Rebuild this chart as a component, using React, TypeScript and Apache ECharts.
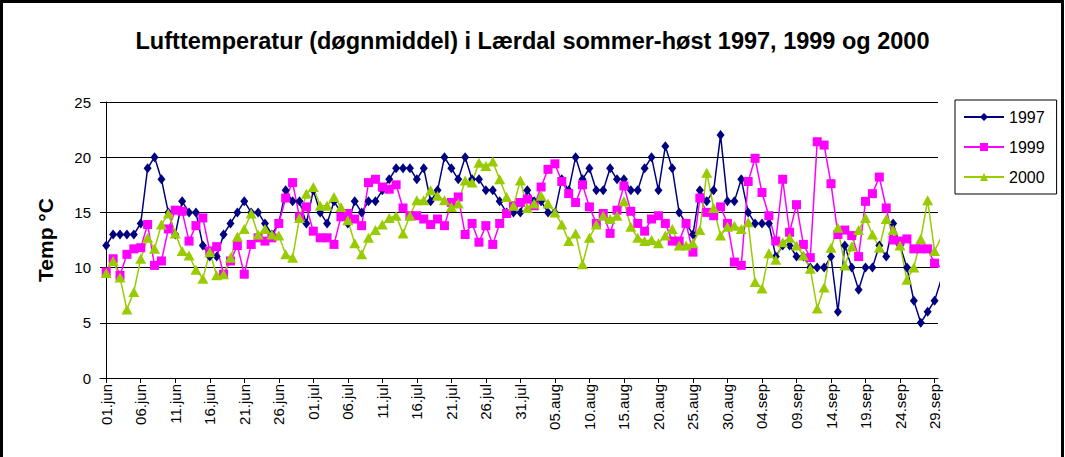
import React, { useEffect, useRef } from 'react';
import * as echarts from 'echarts';

const months: [string, number][] = [['jun', 30], ['jul', 31], ['aug', 31], ['sep', 30]];
const days: string[] = [];
months.forEach(([m, n]) => {
  for (let d = 1; d <= n; d++) days.push(String(d).padStart(2, '0') + '.' + m);
});

const tickIdx = [0, 5, 10, 15, 20, 25, 30, 35, 40, 45, 50, 55, 60, 65, 70, 75, 80, 85, 90, 95, 100, 105, 110, 115, 120];

const seriesNames = ['1997', '1999', '2000'];

const t1997 = [
  12, 13, 13, 13, 13, 14, 19, 20, 18, 15, 13, 16, 15, 15, 12, 11, 11, 13, 14, 15,
  16, 15, 15, 14, 13, 14, 17, 16, 16, 14, 17, 15, 14, 16, 15, 14, 16, 15, 16, 16,
  17, 18, 19, 19, 19, 18, 19, 16, 17, 20, 19, 18, 20, 18, 18, 17, 17, 16, 15, 15,
  15, 17, 16, 16, 15, 15, 18, 17, 20, 18, 19, 17, 17, 19, 18, 18, 17, 17, 19, 20,
  17, 21, 19, 15, 14, 13, 17, 16, 17, 22, 16, 16, 18, 15, 14, 14, 14, 11, 12, 12,
  11, 11, 10, 10, 10, 11, 6, 12, 10, 8, 10, 10, 12, 11, 14, 12, 10, 7, 5, 6,
  7, 9,
];

const t1999 = [
  9.6, 10.8, 9.3, 11.2, 11.7, 11.8, 13.9, 10.2, 10.6, 13.5, 15.2, 15.1, 12.4, 13.8, 14.5, 11.5, 11.9, 9.4, 10.6, 12,
  9.4, 12.1, 12.7, 12.4, 12.7, 14, 16.3, 17.7, 14.6, 15.5, 13.3, 12.7, 12.7, 12.1, 14.6, 14.9, 14.4, 13.8, 17.7, 18,
  17.3, 17.1, 17.5, 15.4, 14.7, 14.7, 14.4, 13.9, 14.4, 13.8, 15.9, 16.4, 13, 14, 12.3, 13.8, 12.1, 14, 14.9, 15.6,
  15.9, 16.2, 15.6, 17.3, 18.9, 19.4, 17.8, 16.7, 15.9, 17.5, 15.5, 14, 14.9, 13.1, 15.2, 17.4, 15.1, 14, 13.3, 14.4,
  14.7, 14, 12.4, 12.4, 14, 11.4, 16.3, 15, 14.7, 15.5, 14, 10.5, 10.2, 17.8, 19.9, 16.8, 14.7, 12.4, 18, 13.2,
  15.7, 12.1, 10.9, 21.4, 21.1, 17.6, 13, 13.4, 12.9, 11, 16, 16.7, 18.2, 15.4, 12.5, 12.4, 12.6, 11.7, 11.7, 11.7,
  10.4, 10,
];

const t2000 = [
  9.5, 10.6, 9.1, 6.2, 7.8, 10.8, 12.7, 11.7, 13.9, 14.9, 13.1, 11.5, 11.1, 9.8, 9, 11.4, 9.3, 9.4, 10.9, 12.8,
  13.5, 14.9, 13, 13.5, 13, 12.9, 11.2, 10.9, 14.5, 16.7, 17.3, 15.6, 15.6, 16.4, 15.5, 14.3, 12.2, 11.2, 12.7, 13.4,
  13.9, 14.5, 14.7, 13.1, 14.7, 16.1, 16.1, 17, 16.5, 16.1, 15.5, 15.8, 17.9, 17.7, 19.5, 19.2, 19.6, 18, 16.4, 15.6,
  17.9, 15.4, 15.8, 16.5, 15.8, 15, 13.9, 12.4, 13.1, 10.3, 12.7, 13.9, 14.7, 14.4, 14.7, 16, 13.7, 12.7, 12.4, 12.5,
  12.2, 12.9, 13.5, 12, 12, 12.2, 13.4, 18.6, 15.4, 12.9, 13.7, 13.8, 13.5, 14.1, 8.7, 8.1, 11.3, 10.7, 12.3, 12.7,
  12, 11.1, 9.9, 6.3, 8.2, 11.8, 13.6, 10.2, 11.9, 13.4, 14.5, 13, 11.8, 14.4, 13.4, 12, 8.9, 10, 12.6, 16.1,
  11.5, 12.8,
];

const colors = ['#000080', '#FF00FF', '#99CC00'];
const symbols = ['diamond', 'rect', 'triangle'];
const symbolSizes: any[] = [[8, 10], 9, [11, 10]];
const values = [t1997, t1999, t2000];

const FONT = 'Arial, "Liberation Sans", sans-serif';

export default function App() {
  const ref = useRef<HTMLDivElement>(null);
  useEffect(() => {
    document.body.style.margin = '0';
    const chart = echarts.init(ref.current!, null, { renderer: 'svg' });
    chart.setOption({
      animation: false,
      backgroundColor: '#fff',
      textStyle: { fontFamily: FONT },
      title: {
        text: 'Lufttemperatur (døgnmiddel) i Lærdal sommer-høst 1997, 1999 og 2000',
        left: 'center',
        top: 24,
        padding: [5, 0, 5, 15],
        textStyle: { fontFamily: FONT, fontSize: 23.5, fontWeight: 'bold', color: '#000' },
      },
      grid: { left: 100, top: 102, right: 127, bottom: 79, containLabel: false },
      legend: {
        data: seriesNames,
        orient: 'vertical',
        left: 955,
        top: 100,
        backgroundColor: '#fff',
        borderColor: '#000',
        borderWidth: 1,
        padding: [9, 12, 9, 8],
        itemGap: 14,
        itemWidth: 40,
        itemHeight: 10,
        textStyle: { fontFamily: FONT, fontSize: 16, color: '#000' },
      },
      xAxis: {
        type: 'value',
        min: -0.9,
        max: 120.5,
        axisLine: { show: true, lineStyle: { color: '#000', width: 1 } },
        axisTick: { show: true, customValues: tickIdx, length: 5, lineStyle: { color: '#000' } },
        axisLabel: {
          customValues: tickIdx,
          formatter: (v: number) => days[Math.round(v)],
          rotate: 90,
          fontSize: 15,
          color: '#000',
          margin: 6,
          fontFamily: FONT,
        },
        splitLine: { show: false },
      },
      yAxis: {
        type: 'value',
        min: 0,
        max: 25,
        interval: 5,
        name: 'Temp °C',
        nameLocation: 'middle',
        nameGap: 44,
        nameTextStyle: { fontFamily: FONT, fontSize: 21, fontWeight: 'bold', color: '#000' },
        axisLine: { show: true, lineStyle: { color: '#000', width: 1 } },
        axisTick: { show: true, length: 5, lineStyle: { color: '#000' } },
        axisLabel: { fontSize: 15, color: '#000', margin: 9, fontFamily: FONT },
        splitLine: { show: true, lineStyle: { color: '#000', width: 1 } },
      },
      graphic: [
        {
          type: 'rect',
          shape: { x: 1.5, y: 1.5, width: 1061, height: 470 },
          style: { fill: 'none', stroke: '#000', lineWidth: 3 },
          silent: true,
        },
      ],
      series: seriesNames.map((name, k) => ({
        name,
        type: 'line',
        data: values[k].map((v, i) => [i, v]),
        symbol: symbols[k],
        symbolSize: symbolSizes[k],
        showAllSymbol: true,
        clip: true,
        lineStyle: { color: colors[k], width: 1.5 },
        itemStyle: { color: colors[k] },
        emphasis: { disabled: true },
      })),
    });
    return () => chart.dispose();
  }, []);
  return <div ref={ref} style={{ width: 1065, height: 457 }} />;
}
